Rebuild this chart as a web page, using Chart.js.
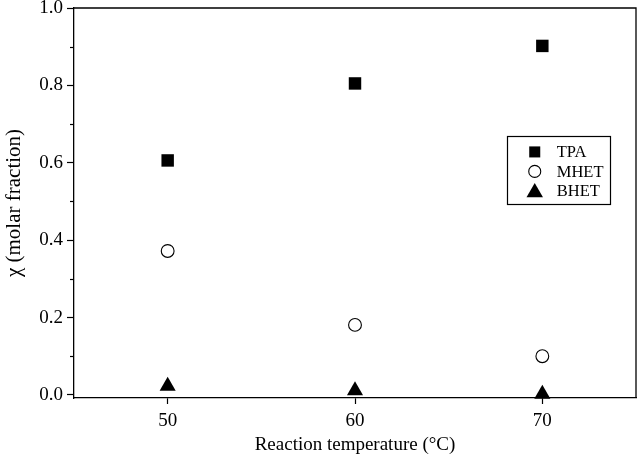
<!DOCTYPE html>
<html><head><meta charset="utf-8">
<script src="https://cdn.jsdelivr.net/npm/chart.js@4/dist/chart.umd.min.js"></script>
<style>html,body{margin:0;padding:0;background:#fff;overflow:hidden}canvas{display:block}</style>
</head><body>
<canvas id="c" width="637" height="460"></canvas>
<script>
const temperatures = [50, 60, 70];
const seriesNames = ['TPA', 'MHET', 'BHET'];
const tpaValues = [0.606, 0.805, 0.902];
const mhetValues = [0.372, 0.181, 0.100];
const bhetValues = [0.023, 0.011, 0.002];
const yTickValues = [0, 0.2, 0.4, 0.6, 0.8, 1.0];
const yMinorValues = [0.1, 0.3, 0.5, 0.7, 0.9];
const xTickValues = [50, 60, 70];
const xTitle = 'Reaction temperature (°C)';
const yTitle = 'χ (molar fraction)';

const FONT = "'Liberation Serif', 'Times New Roman', serif";
const toPts = vals => temperatures.map((t, i) => ({x: t, y: vals[i]}));

const datasets = [
  {label: seriesNames[0], data: toPts(tpaValues), pointStyle: 'rect', pointRadius: 8.8,
   backgroundColor: '#000', borderColor: '#000', borderWidth: 0},
  {label: seriesNames[1], data: toPts(mhetValues), pointStyle: 'circle', pointRadius: 6.4,
   backgroundColor: '#fff', borderColor: '#000', borderWidth: 1.1},
  {label: seriesNames[2], data: toPts(bhetValues), pointStyle: 'triangle', pointRadius: 9.3,
   backgroundColor: '#000', borderColor: '#000', borderWidth: 0}
].map(d => Object.assign(d, {showLine: false, clip: false, pointHoverRadius: d.pointRadius}));

const framePlugin = {
  id: 'frame',
  afterDraw(chart) {
    const {ctx, chartArea: a, scales: {y}} = chart;
    ctx.save();
    ctx.strokeStyle = '#000';
    ctx.lineWidth = 1.3;
    ctx.beginPath();
    ctx.moveTo(a.left, a.top); ctx.lineTo(a.right, a.top); ctx.lineTo(a.right, a.bottom);
    ctx.stroke();
    ctx.lineWidth = 1.2;
    yMinorValues.forEach(v => {
      const py = Math.round(y.getPixelForValue(v)) + 0.5;
      ctx.beginPath(); ctx.moveTo(a.left - 4, py); ctx.lineTo(a.left, py); ctx.stroke();
    });
    const bx = a.left + (a.right - a.left) * 0.770;
    const by = a.top + (a.bottom - a.top) * 0.328;
    const bw = 103, bh = 68;
    ctx.lineWidth = 1.2;
    ctx.strokeRect(Math.round(bx) + 0.5, Math.round(by) + 0.5, bw, bh);
    ctx.font = "16.5px " + FONT;
    ctx.textBaseline = 'middle';
    ctx.textAlign = 'left';
    chart.data.datasets.forEach((ds, i) => {
      const ry = by + 16 + i * 19.5;
      const mx = bx + 28;
      ctx.fillStyle = ds.backgroundColor;
      ctx.strokeStyle = ds.borderColor;
      ctx.lineWidth = ds.borderWidth;
      const r = ds.pointStyle === 'rect' ? 7.8 : ds.pointStyle === 'circle' ? 6 : 9.5;
      Chart.helpers.drawPoint(ctx, {pointStyle: ds.pointStyle, radius: r, borderWidth: ds.borderWidth, rotation: 0}, mx, ry + (ds.pointStyle === 'triangle' ? 1.5 : 0));
      ctx.fillStyle = '#000';
      ctx.fillText(ds.label, bx + 50, ry + 1);
    });
    ctx.restore();
  }
};

new Chart(document.getElementById('c'), {
  type: 'scatter',
  data: {datasets},
  options: {
    responsive: false,
    animation: false,
    devicePixelRatio: 1,
    layout: {autoPadding: false, padding: {top: 8, right: 1, left: 0, bottom: 0}},
    plugins: {legend: {display: false}, tooltip: {enabled: false}},
    scales: {
      x: {
        type: 'linear', min: 45, max: 75,
        afterBuildTicks: s => { s.ticks = xTickValues.map(v => ({value: v})); },
        afterFit: s => { s.height = 62; s.paddingLeft = 0; s.paddingRight = 0; },
        grid: {drawOnChartArea: false, drawTicks: true, tickLength: 6, tickColor: '#000', tickWidth: 1.2},
        border: {display: true, color: '#000', width: 1.3},
        ticks: {color: '#000', font: {family: FONT, size: 19}, padding: 6, maxRotation: 0,
                callback: v => String(v)},
        title: {display: true, text: xTitle, color: '#000', font: {family: FONT, size: 19}, padding: {top: 0, bottom: 4}}
      },
      y: {
        type: 'linear', min: -0.008, max: 1.0,
        afterBuildTicks: s => { s.ticks = yTickValues.map(v => ({value: v})); },
        afterFit: s => { s.width = 74; s.paddingTop = 0; s.paddingBottom = 0; },
        grid: {drawOnChartArea: false, drawTicks: true, tickLength: 7, tickColor: '#000', tickWidth: 1.2},
        border: {display: true, color: '#000', width: 1.3},
        ticks: {color: '#000', font: {family: FONT, size: 19}, padding: 4,
                callback: v => Number(v).toFixed(1)},
        title: {display: true, text: yTitle, color: '#000', font: {family: FONT, size: 21}, padding: {top: 2, bottom: 0}}
      }
    }
  },
  plugins: [framePlugin]
});
</script>
</body></html>
